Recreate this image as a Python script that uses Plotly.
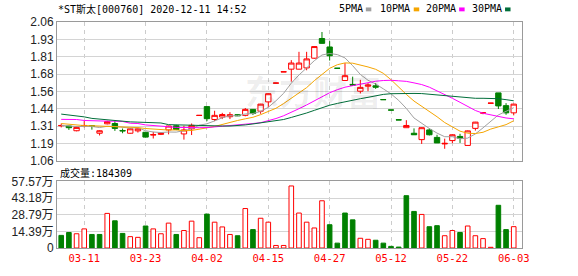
import plotly.graph_objects as go

# ---------------- data ----------------
dates = ["03-06","03-09","03-10","03-11","03-12","03-13","03-16","03-17","03-18","03-19",
         "03-20","03-23","03-24","03-25","03-26","03-27","03-30","03-31","04-01","04-02",
         "04-03","04-07","04-08","04-09","04-10","04-13","04-14","04-15","04-16","04-17",
         "04-20","04-21","04-22","04-23","04-24","04-27","04-28","04-29","04-30","05-06",
         "05-07","05-08","05-11","05-12","05-13","05-14","05-15","05-18","05-19","05-20",
         "05-21","05-22","05-25","05-26","05-27","05-28","05-29","06-01","06-02","06-03"]

opens = [1.312,1.310,1.276,1.312,1.312,1.258,1.326,1.328,1.278,1.258,
         1.275,1.265,1.245,1.250,1.282,1.312,1.253,1.290,1.386,1.450,
         1.357,1.375,1.377,1.392,1.387,1.430,1.417,1.484,1.619,1.700,
         1.720,1.720,1.729,1.799,1.941,1.880,1.727,1.638,1.610,1.561,
         1.597,1.600,1.501,1.426,1.355,1.298,1.258,1.212,1.282,1.228,
         1.181,1.205,1.235,1.170,1.293,1.404,1.474,1.549,1.457,1.405]
highs = [1.328,1.312,1.306,1.345,1.314,1.280,1.348,1.351,1.292,1.295,
         1.292,1.268,1.268,1.265,1.312,1.318,1.312,1.328,1.388,1.452,
         1.420,1.405,1.410,1.395,1.440,1.432,1.470,1.545,1.620,1.701,
         1.785,1.845,1.845,1.885,1.988,1.922,1.727,1.764,1.666,1.643,
         1.619,1.620,1.501,1.426,1.355,1.352,1.293,1.300,1.293,1.247,
         1.219,1.250,1.254,1.278,1.340,1.405,1.475,1.549,1.475,1.470]
lows = [1.300,1.282,1.272,1.300,1.284,1.242,1.322,1.275,1.258,1.255,
        1.263,1.228,1.220,1.245,1.250,1.280,1.212,1.245,1.386,1.345,
        1.345,1.360,1.360,1.382,1.380,1.390,1.398,1.445,1.619,1.700,
        1.630,1.718,1.712,1.795,1.904,1.782,1.726,1.636,1.603,1.545,
        1.561,1.578,1.500,1.425,1.354,1.297,1.247,1.181,1.242,1.188,
        1.146,1.186,1.188,1.168,1.277,1.395,1.474,1.433,1.391,1.387]
closes = [1.314,1.298,1.300,1.314,1.308,1.276,1.342,1.293,1.275,1.290,
          1.290,1.230,1.248,1.258,1.310,1.285,1.282,1.315,1.387,1.363,
          1.387,1.393,1.392,1.384,1.430,1.400,1.468,1.543,1.620,1.701,
          1.764,1.764,1.794,1.883,1.906,1.817,1.726,1.673,1.605,1.589,
          1.606,1.590,1.500,1.425,1.354,1.314,1.247,1.298,1.247,1.188,
          1.185,1.247,1.222,1.275,1.338,1.405,1.475,1.455,1.405,1.468]

# volume in 万 shares
volumes = [10.9,13.4,12.3,16.5,11.7,11.7,29.9,23.5,12.6,9.8,
           9.2,19.0,16.5,12.3,21.5,11.7,15.1,23.2,8.9,29.3,
           22.3,18.2,11.7,10.6,34.1,15.9,25.7,22.3,2.2,2.2,
           53.6,30.2,22.3,17.3,40.8,20.1,4.2,30.2,24.3,8.4,
           7.5,6.7,4.2,1.4,0.8,45.2,31.6,29.0,18.4,19.3,
           10.6,15.1,13.4,19.0,10.6,8.1,0.6,36.9,15.9,18.43]
vol_up = [0,0,1,1,0,0,1,0,0,1,
          1,0,1,1,1,0,1,1,1,0,
          1,1,1,0,1,0,1,1,1,1,
          1,1,1,1,1,0,0,0,0,1,
          1,0,0,0,0,0,0,1,0,0,
          1,1,0,1,1,1,1,0,0,1]

ma5 = [1.315,1.310,1.306,1.307,1.307,1.299,1.308,1.307,1.299,1.295,
       1.298,1.276,1.267,1.263,1.267,1.266,1.277,1.290,1.316,1.326,
       1.347,1.369,1.384,1.384,1.397,1.400,1.415,1.445,1.492,1.546,
       1.619,1.678,1.729,1.781,1.822,1.833,1.825,1.801,1.745,1.682,
       1.640,1.613,1.578,1.542,1.495,1.437,1.368,1.328,1.292,1.259,
       1.233,1.233,1.218,1.223,1.253,1.297,1.343,1.390,1.416,1.442]
ma10 = [1.328,1.322,1.316,1.313,1.312,1.310,1.310,1.306,1.303,1.301,
        1.299,1.292,1.287,1.281,1.281,1.282,1.276,1.278,1.290,1.297,
        1.307,1.323,1.337,1.350,1.362,1.373,1.392,1.415,1.438,1.472,
        1.510,1.547,1.587,1.637,1.684,1.726,1.752,1.765,1.763,1.752,
        1.736,1.719,1.690,1.644,1.589,1.538,1.490,1.453,1.417,1.377,
        1.335,1.301,1.273,1.258,1.256,1.265,1.288,1.304,1.320,1.348]
ma20 = [1.358,1.358,1.357,1.350,1.347,1.345,1.345,1.345,1.343,1.330,
        1.328,1.318,1.312,1.310,1.305,1.300,1.298,1.298,1.298,1.299,
        1.303,1.307,1.312,1.315,1.322,1.328,1.334,1.347,1.364,1.384,
        1.408,1.435,1.462,1.493,1.523,1.550,1.572,1.590,1.601,1.612,
        1.623,1.633,1.638,1.640,1.636,1.632,1.621,1.609,1.590,1.565,
        1.536,1.510,1.481,1.451,1.422,1.402,1.389,1.378,1.368,1.362]
ma30 = [1.396,1.390,1.383,1.376,1.365,1.360,1.350,1.347,1.345,1.340,
        1.338,1.335,1.333,1.332,1.320,1.318,1.316,1.313,1.311,1.310,
        1.310,1.310,1.310,1.312,1.318,1.325,1.332,1.338,1.347,1.357,
        1.372,1.387,1.404,1.423,1.442,1.460,1.473,1.486,1.497,1.507,
        1.517,1.529,1.538,1.543,1.545,1.546,1.545,1.544,1.539,1.534,
        1.527,1.522,1.516,1.513,1.510,1.510,1.510,1.507,1.500,1.492]

price_ticks = [1.06, 1.185, 1.31, 1.435, 1.56, 1.685, 1.81, 1.935, 2.06]
price_labels = ["1.06", "1.19", "1.31", "1.44", "1.56", "1.68", "1.81", "1.93", "2.06"]
vol_ticks = [0, 14.39, 28.79, 43.18, 57.57]
vol_labels = ["0", "14.39万", "28.79万", "43.18万", "57.57万"]
label_dates = ["03-11", "03-23", "04-02", "04-15", "04-27", "05-12", "05-22", "06-03"]

title_text = "*ST斯太[000760] 2020-12-11 14:52"
vol_text = "成交量:184309"
ma_names = ["5PMA", "10PMA", "20PMA", "30PMA"]

# ---------------- style ----------------
W, H = 578, 276
L, R, T, B = 56, 56, 22, 21
PW, PH = W - L - R, H - T - B
RED = "#ff0000"
GREEN = "#008000"
MA_COLORS = ["#a0a0a0", "#f5a500", "#ff00ff", "#006e3a"]
GRID = "#d4d4d4"
BORDER = "#9a9a9a"
MONO = "DejaVu Sans Mono, Noto Sans CJK SC, monospace"
SANS = "Liberation Sans, Arial, Noto Sans CJK SC, sans-serif"


def px(xp):
    return (xp - L) / PW


def py(yp):
    return (H - B - yp) / PH


x = list(range(len(dates)))
tickvals = [dates.index(d) for d in label_dates]
xrange_ = [-0.55, len(dates) + 0.08]

fig = go.Figure()

for vals, col in zip([ma5, ma10, ma20, ma30], MA_COLORS):
    fig.add_trace(go.Scatter(x=x, y=vals, mode="lines", line=dict(color=col, width=1),
                             hoverinfo="skip", xaxis="x", yaxis="y"))

fig.add_trace(go.Candlestick(
    x=x, open=opens, high=highs, low=lows, close=closes,
    increasing=dict(line=dict(color=RED, width=1), fillcolor="#ffffff"),
    decreasing=dict(line=dict(color=GREEN, width=1), fillcolor=GREEN),
    whiskerwidth=0, xaxis="x", yaxis="y", hoverinfo="skip"))

fig.add_trace(go.Bar(
    x=x, y=volumes, width=0.6, xaxis="x2", yaxis="y2",
    marker=dict(color=["#ffffff" if u else GREEN for u in vol_up],
                line=dict(color=[RED if u else GREEN for u in vol_up], width=1)),
    hoverinfo="skip"))

axis_common = dict(showline=True, mirror=True, linecolor=BORDER, linewidth=1,
                   zeroline=False, ticks="", fixedrange=True)

fig.update_layout(
    width=W, height=H,
    margin=dict(l=L, r=R, t=T, b=B, pad=0),
    paper_bgcolor="#ffffff", plot_bgcolor="#ffffff",
    showlegend=False,
    boxgap=0.3, boxgroupgap=0,
    xaxis=dict(domain=[0, 1], anchor="y", range=xrange_, tickvals=tickvals,
               showticklabels=False, showgrid=True, gridcolor="#cccccc",
               griddash="4px,4px", rangeslider=dict(visible=False), **axis_common),
    xaxis2=dict(domain=[0, 1], anchor="y2", range=xrange_, tickvals=tickvals,
                ticktext=label_dates, showgrid=True, gridcolor="#cccccc",
                griddash="4px,4px", tickfont=dict(family=MONO, size=10.5, color=RED),
                **axis_common),
    yaxis=dict(domain=[py(165), 1], anchor="x", range=[1.06, 2.06],
               tickvals=price_ticks, ticktext=price_labels, showgrid=True,
               gridcolor=GRID, tickfont=dict(family=SANS, size=12, color="#222222"),
               **axis_common),
    yaxis2=dict(domain=[0, py(186.3)], anchor="x2", range=[0, 57.57],
                tickvals=vol_ticks, ticktext=vol_labels, showgrid=True,
                gridcolor=GRID, tickfont=dict(family=SANS, size=12, color="#222222"),
                **axis_common),
)

annotations = [
    dict(text=title_text, x=px(55), y=py(9), xref="paper", yref="paper",
         xanchor="left", yanchor="middle", showarrow=False,
         font=dict(family=MONO, size=10, color="#000000")),
    dict(text=vol_text, x=px(57), y=py(177.5), xref="paper", yref="paper",
         xanchor="left", yanchor="middle", showarrow=False,
         font=dict(family=MONO, size=10, color="#000000")),
    dict(text="<b>东方财富</b>", x=px(313), y=py(93), xref="paper", yref="paper",
         xanchor="center", yanchor="middle", showarrow=False,
         font=dict(family="Noto Sans CJK SC", size=34, color="rgba(0,0,0,0.07)")),
]
shapes = []
leg_text_x = [338, 379, 425, 471.5]
leg_sq_x = [365.5, 413.5, 459, 505]
for name, tx, sx, col in zip(ma_names, leg_text_x, leg_sq_x, MA_COLORS):
    annotations.append(dict(text=name, x=px(tx - 1.5), y=py(8.5), xref="paper", yref="paper",
                            xanchor="left", yanchor="middle", showarrow=False,
                            font=dict(family=MONO, size=10, color="#000000")))
    shapes.append(dict(type="rect", xref="paper", yref="paper",
                       x0=px(sx), x1=px(sx + 5.5), y0=py(11), y1=py(7),
                       fillcolor=col, line=dict(width=0)))

fig.update_layout(annotations=annotations, shapes=shapes)

fig.write_html("out.html", config={"displayModeBar": False})
